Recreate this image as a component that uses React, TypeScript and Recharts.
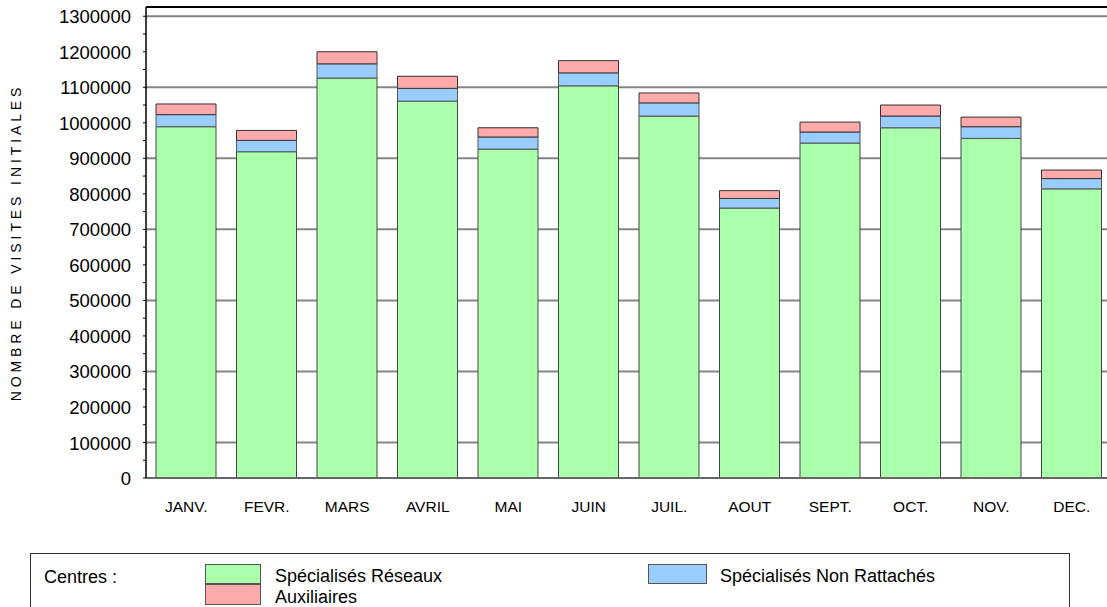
import React from 'react';
import { BarChart, Bar, XAxis, YAxis, CartesianGrid, ReferenceLine } from 'recharts';

const months = ['JANV.', 'FEVR.', 'MARS', 'AVRIL', 'MAI', 'JUIN', 'JUIL.', 'AOUT', 'SEPT.', 'OCT.', 'NOV.', 'DEC.'];
const reseaux = [989000, 918500, 1126000, 1061000, 926000, 1104000, 1019000, 760000, 943000, 986000, 956000, 814000];
const nonRattaches = [34000, 32000, 40000, 36000, 34000, 36500, 37000, 27000, 31000, 33000, 33000, 29000];
const auxiliaires = [30000, 28000, 34000, 34000, 26000, 34500, 28000, 22000, 28000, 31000, 27000, 24000];

const yTicks = [0, 50000, 100000, 150000, 200000, 250000, 300000, 350000, 400000, 450000, 500000, 550000, 600000, 650000, 700000, 750000, 800000, 850000, 900000, 950000, 1000000, 1050000, 1100000, 1150000, 1200000, 1250000, 1300000];
const gridValues = [100000, 300000, 500000, 700000, 900000, 1100000, 1300000];
const Y_MAX = 1326000;

const FONT = '"Liberation Sans", Arial, sans-serif';

const COLORS = {
  reseaux: '#aaffaa',
  nonRattaches: '#99ccff',
  auxiliaires: '#ffaaaa',
};

const data = months.map((m, i) => ({
  month: m,
  reseaux: reseaux[i],
  nonRattaches: nonRattaches[i],
  auxiliaires: auxiliaires[i],
}));

const YTick = (props: any) => {
  const { x, y, payload } = props;
  if (payload.value % 100000 !== 0) return null;
  return (
    <text x={x} y={y} dy="0.38em" textAnchor="end" fontSize={18.5} fill="#000" fontFamily={FONT}>
      {payload.value}
    </text>
  );
};

const YTitle = (props: any) => {
  const { viewBox } = props;
  const cx = viewBox.x + 16;
  const cy = viewBox.y + viewBox.height / 2;
  return (
    <text
      x={cx}
      y={cy}
      transform={`rotate(-90 ${cx} ${cy})`}
      textAnchor="middle"
      dominantBaseline="central"
      fontSize={14}
      letterSpacing={3.9}
      fill="#000"
      fontFamily={FONT}
    >
      NOMBRE DE VISITES INITIALES
    </text>
  );
};

const swatch = (color: string): React.CSSProperties => ({
  position: 'absolute',
  width: 56,
  height: 19,
  background: color,
  border: '1px solid #555',
  boxSizing: 'border-box',
});

const txt: React.CSSProperties = {
  position: 'absolute',
  fontSize: 18,
  lineHeight: '20px',
  whiteSpace: 'nowrap',
  color: '#000',
};

export default function App() {
  return (
    <div style={{ position: 'absolute', left: 0, top: 0, width: 1107, height: 607, overflow: 'hidden', background: '#fff', fontFamily: FONT }}>
      <BarChart
        width={1113}
        height={607}
        data={data}
        margin={{ top: 7, right: 1, bottom: 0, left: 0 }}
        barSize={60}
      >
        <CartesianGrid horizontal vertical={false} horizontalValues={gridValues} stroke="#858585" strokeWidth={2} />
        <XAxis
          dataKey="month"
          height={129}
          tickLine={false}
          tickSize={0}
          tickMargin={23}
          axisLine={{ stroke: '#666', strokeWidth: 2 }}
          tick={{ fontSize: 15.5, fill: '#000', fontFamily: FONT }}
          interval={0}
        />
        <YAxis
          width={146}
          domain={[0, Y_MAX]}
          ticks={yTicks}
          interval={0}
          tickSize={3}
          tickMargin={12}
          tickLine={{ stroke: '#000' }}
          axisLine={{ stroke: '#000', strokeWidth: 1.5 }}
          tick={<YTick />}
          label={<YTitle />}
        />
        <ReferenceLine y={Y_MAX} stroke="#000" strokeWidth={2} />
        <Bar dataKey="reseaux" stackId="a" fill={COLORS.reseaux} stroke="#444" strokeWidth={1} isAnimationActive={false} />
        <Bar dataKey="nonRattaches" stackId="a" fill={COLORS.nonRattaches} stroke="#555" strokeWidth={1} isAnimationActive={false} />
        <Bar dataKey="auxiliaires" stackId="a" fill={COLORS.auxiliaires} stroke="#333" strokeWidth={1} isAnimationActive={false} />
      </BarChart>

      <div style={{ position: 'absolute', left: 30, top: 553, width: 1040, height: 80, border: '1px solid #333', boxSizing: 'border-box' }}>
        <div style={{ ...txt, left: 13, top: 13 }}>Centres :</div>
        <div style={{ ...swatch(COLORS.reseaux), left: 174, top: 10, height: 20 }} />
        <div style={{ ...swatch(COLORS.auxiliaires), left: 174, top: 30, height: 21 }} />
        <div style={{ ...txt, left: 244, top: 12 }}>Spécialisés Réseaux</div>
        <div style={{ ...txt, left: 244, top: 33 }}>Auxiliaires</div>
        <div style={{ ...swatch(COLORS.nonRattaches), left: 617, top: 10, width: 59, height: 20 }} />
        <div style={{ ...txt, left: 689, top: 12 }}>Spécialisés Non Rattachés</div>
      </div>
    </div>
  );
}
